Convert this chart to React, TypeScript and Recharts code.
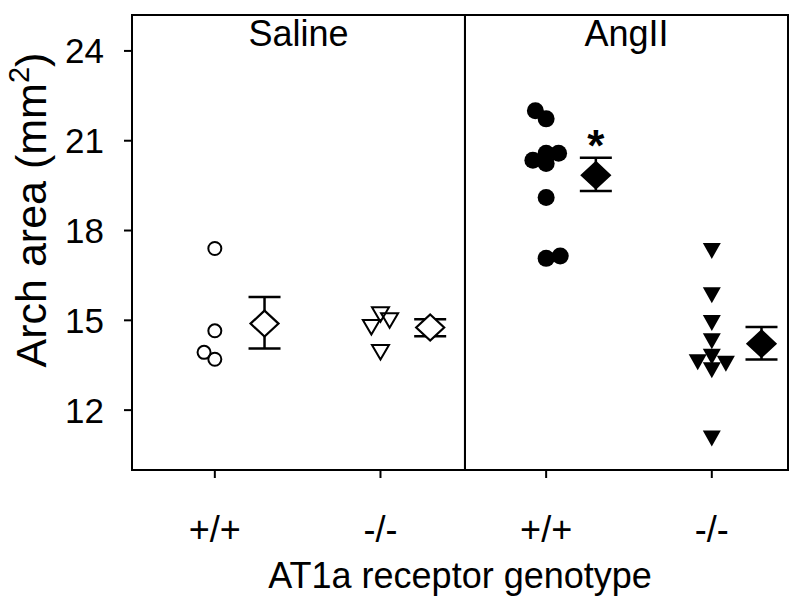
import { ScatterChart, Scatter, XAxis, YAxis, ErrorBar, ReferenceArea, Label } from "recharts";

// x positions are group index + small jitter (in group units)
const groupLabels = ["+/+", "-/-", "+/+", "-/-"];
const groupPos = [1, 2, 3, 4];
const yTicks = [12, 15, 18, 21, 24];
const panelNames = ["Saline", "AngII"];

const salineWT = [17.4, 14.65, 13.93, 13.7];
const salineWTJitter = [0, 0, -0.065, 0];
const salineKO = [15.2, 15.0, 14.78, 13.94];
const salineKOJitter = [0, 0.055, -0.055, 0];
const angWT = [22.0, 21.73, 20.35, 20.58, 20.58, 20.24, 19.1, 17.07, 17.15];
const angWTJitter = [-0.065, 0, -0.08, 0, 0.075, 0, 0, 0, 0.085];
const angKO = [17.32, 15.84, 14.91, 14.3, 13.78, 13.6, 13.55, 13.33, 11.05];
const angKOJitter = [0, 0, 0, 0, 0, -0.085, 0.085, 0, 0];

// mean and SEM ends per group
const means = [14.89, 14.76, 19.85, 14.22];
const semHigh = [15.78, 15.04, 20.43, 14.78];
const semLow = [14.06, 14.47, 19.32, 13.69];
const meanShift = 0.3;
const starGroup = [3];
const starValue = [21.12];

const toPoints = (vals: number[], jit: number[], pos: number) =>
  vals.map((v, i) => ({ x: pos + jit[i], y: v }));

const meanData = means.map((m, i) => ({
  x: groupPos[i] + meanShift,
  y: m,
  err: [m - semLow[i], semHigh[i] - m],
}));
const openMeans = meanData.slice(0, 2);
const filledMeans = meanData.slice(2);
const starData = starGroup.map((g, i) => ({ x: g + meanShift, y: starValue[i] }));

const openCircle = (p: any) => (
  <circle cx={p.cx} cy={p.cy} r={6.5} fill="none" stroke="#000" strokeWidth={2} />
);
const filledCircle = (p: any) => <circle cx={p.cx} cy={p.cy} r={8.5} fill="#000" />;
const openTriangle = (p: any) => (
  <polygon
    points={`${p.cx - 8.5},${p.cy - 7} ${p.cx + 8.5},${p.cy - 7} ${p.cx},${p.cy + 7.5}`}
    fill="none"
    stroke="#000"
    strokeWidth={2}
  />
);
const filledTriangle = (p: any) => (
  <polygon
    points={`${p.cx - 9},${p.cy - 8} ${p.cx + 9},${p.cy - 8} ${p.cx},${p.cy + 8}`}
    fill="#000"
  />
);
const diamond = (filled: boolean) => (p: any) => (
  <polygon
    points={`${p.cx},${p.cy - 13} ${p.cx + 14},${p.cy} ${p.cx},${p.cy + 13} ${p.cx - 14},${p.cy}`}
    fill={filled ? "#000" : "#fff"}
    stroke="#000"
    strokeWidth={2.2}
  />
);
const starShape = (p: any) => (
  <text x={p.cx} y={p.cy + 24} textAnchor="middle" fontSize={44} fontWeight="bold" fill="#000">
    *
  </text>
);
const none = () => <g />;

const YTitle = () => (
  <text transform="translate(46, 210) rotate(-90)" textAnchor="middle" fontSize={43} fill="#000">
    <tspan>Arch area (mm</tspan>
    <tspan fontSize={29} dy={-17}>2</tspan>
    <tspan fontSize={43} dy={17}>)</tspan>
  </text>
);

export default function App() {
  return (
    <div style={{ position: "absolute", left: 0, top: 0, fontFamily: "Liberation Sans, Arial, sans-serif" }}>
      <ScatterChart width={800} height={603} margin={{ top: 15, right: 12, bottom: 0, left: 0 }}>
        <XAxis
          type="number"
          dataKey="x"
          domain={[0.5, 4.46]}
          ticks={groupPos}
          tickFormatter={(v) => groupLabels[v - 1]}
          allowDataOverflow
          height={133}
          axisLine={false}
          tickLine={{ stroke: "#000", strokeWidth: 2 }}
          tickSize={8}
          tickMargin={38}
          tick={{ fill: "#000", fontSize: 36 }}
        >
          <Label value="AT1a receptor genotype" position="insideBottom" offset={15} fontSize={36} fill="#000" />
        </XAxis>
        <YAxis
          type="number"
          dataKey="y"
          domain={[10, 25.2]}
          ticks={yTicks}
          allowDataOverflow
          width={132}
          axisLine={false}
          tickLine={{ stroke: "#000", strokeWidth: 2 }}
          tickSize={8}
          tickMargin={20}
          tick={{ fill: "#000", fontSize: 35 }}
        >
          <Label content={<YTitle />} />
        </YAxis>
        <ReferenceArea
          x1={0.5}
          x2={2.51}
          y1={10}
          y2={25.2}
          fill="none"
          fillOpacity={0}
          stroke="#000"
          strokeWidth={2}
          label={{ value: panelNames[0], position: "insideTop", offset: 5, fontSize: 36, fill: "#000" }}
        />
        <ReferenceArea
          x1={2.51}
          x2={4.46}
          y1={10}
          y2={25.2}
          fill="none"
          fillOpacity={0}
          stroke="#000"
          strokeWidth={2}
          label={{ value: panelNames[1], position: "insideTop", offset: 5, fontSize: 36, fill: "#000" }}
        />
        <Scatter data={toPoints(salineWT, salineWTJitter, 1)} shape={openCircle} isAnimationActive={false} />
        <Scatter data={toPoints(salineKO, salineKOJitter, 2)} shape={openTriangle} isAnimationActive={false} />
        <Scatter data={toPoints(angWT, angWTJitter, 3)} shape={filledCircle} isAnimationActive={false} />
        <Scatter data={toPoints(angKO, angKOJitter, 4)} shape={filledTriangle} isAnimationActive={false} />
        <Scatter data={meanData} shape={none} isAnimationActive={false}>
          <ErrorBar dataKey="err" direction="y" width={16} stroke="#000" strokeWidth={2.5} isAnimationActive={false} />
        </Scatter>
        <Scatter data={openMeans} shape={diamond(false)} isAnimationActive={false} />
        <Scatter data={filledMeans} shape={diamond(true)} isAnimationActive={false} />
        <Scatter data={starData} shape={starShape} isAnimationActive={false} />
      </ScatterChart>
    </div>
  );
}
